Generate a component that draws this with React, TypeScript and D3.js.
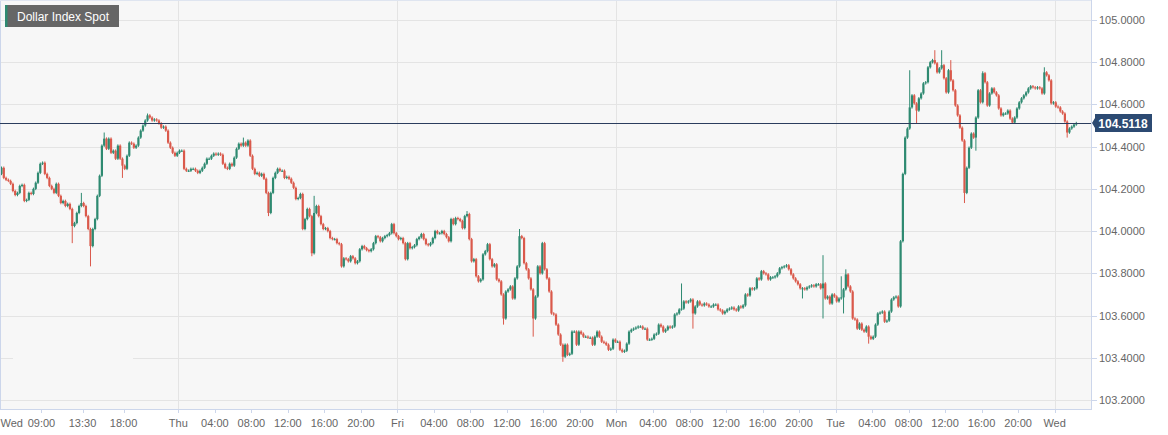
import React from "react";
import * as d3 from "d3";

const seriesName = "Dollar Index Spot";
const lastPrice = 104.5118;
const firstOpen = 104.271;

// 15-minute closes, Wed 04:30 onward (weekend removed)
const closes: number[] = [
  104.300,104.252,104.243,104.238,104.224,104.190,104.171,104.181,104.214,104.219,
  104.143,104.148,104.181,104.176,104.200,104.229,104.276,104.319,104.324,104.271,
  104.252,104.214,104.200,104.181,104.224,104.167,104.133,104.143,104.119,104.129,
  104.105,104.024,104.038,104.086,104.119,104.133,104.119,104.071,104.010,103.929,
  104.010,104.057,104.167,104.262,104.405,104.438,104.390,104.438,104.371,104.381,
  104.343,104.405,104.343,104.310,104.295,104.357,104.419,104.414,104.395,104.405,
  104.443,104.476,104.500,104.524,104.548,104.538,104.524,104.529,104.524,104.510,
  104.490,104.495,104.476,104.419,104.395,104.371,104.357,104.371,104.381,104.381,
  104.295,104.286,104.286,104.295,104.295,104.286,104.276,104.286,104.300,104.319,
  104.343,104.343,104.357,104.367,104.362,104.367,104.362,104.319,104.300,104.295,
  104.319,104.310,104.348,104.390,104.414,104.405,104.419,104.405,104.429,104.357,
  104.295,104.271,104.276,104.262,104.271,104.248,104.181,104.086,104.181,104.252,
  104.276,104.295,104.286,104.286,104.252,104.257,104.248,104.229,104.205,104.152,
  104.157,104.176,104.010,104.057,104.105,104.071,103.895,104.086,104.119,104.071,
  104.033,104.010,104.014,104.000,103.967,103.962,103.962,103.943,103.938,103.833,
  103.871,103.867,103.857,103.881,103.871,103.848,103.857,103.914,103.929,103.919,
  103.910,103.905,103.914,103.943,103.976,103.971,103.952,103.967,103.976,103.981,
  103.990,104.033,103.990,103.976,103.962,103.967,103.943,103.867,103.943,103.919,
  103.924,103.933,103.962,103.971,103.986,103.962,103.938,103.933,103.943,103.967,
  104.000,103.990,103.990,104.000,103.986,103.971,103.952,104.057,104.033,104.062,
  104.057,104.048,104.014,104.071,104.081,103.962,103.857,103.867,103.786,103.762,
  103.771,103.890,103.905,103.938,103.867,103.833,103.843,103.771,103.762,103.700,
  103.586,103.714,103.724,103.738,103.681,103.776,103.833,103.976,103.967,103.848,
  103.819,103.776,103.724,103.586,103.690,103.833,103.800,103.943,103.819,103.776,
  103.714,103.610,103.605,103.557,103.510,103.462,103.405,103.462,103.414,103.419,
  103.524,103.524,103.462,103.524,103.514,103.500,103.500,103.495,103.495,103.462,
  103.500,103.524,103.500,103.476,103.471,103.462,103.438,103.443,103.486,103.476,
  103.476,103.438,103.429,103.433,103.467,103.524,103.533,103.538,103.543,103.548,
  103.548,103.538,103.538,103.486,103.486,103.490,103.510,103.514,103.557,103.548,
  103.524,103.533,103.548,103.543,103.548,103.605,103.610,103.629,103.633,103.667,
  103.662,103.667,103.676,103.610,103.643,103.667,103.652,103.648,103.657,103.652,
  103.643,103.643,103.652,103.652,103.629,103.624,103.610,103.619,103.629,103.633,
  103.638,103.629,103.624,103.643,103.638,103.648,103.700,103.695,103.729,103.724,
  103.729,103.776,103.771,103.810,103.800,103.795,103.771,103.781,103.781,103.786,
  103.800,103.824,103.829,103.833,103.838,103.819,103.795,103.776,103.762,103.748,
  103.729,103.729,103.724,103.733,103.738,103.743,103.738,103.748,103.748,103.729,
  103.752,103.681,103.690,103.657,103.700,103.690,103.667,103.681,103.686,103.724,
  103.795,103.738,103.714,103.586,103.581,103.538,103.562,103.533,103.524,103.548,
  103.500,103.490,103.500,103.557,103.610,103.614,103.619,103.571,103.576,103.619,
  103.676,103.686,103.690,103.643,103.952,104.271,104.443,104.486,104.586,104.643,
  104.605,104.571,104.629,104.652,104.700,104.705,104.776,104.800,104.810,104.795,
  104.752,104.771,104.786,104.724,104.657,104.762,104.714,104.667,104.595,104.548,
  104.490,104.429,104.181,104.300,104.395,104.462,104.443,104.538,104.667,104.610,
  104.748,104.705,104.595,104.652,104.676,104.657,104.643,104.581,104.548,104.557,
  104.557,104.571,104.533,104.514,104.538,104.581,104.610,104.629,104.643,104.657,
  104.676,104.686,104.681,104.676,104.681,104.676,104.652,104.752,104.738,104.714,
  104.605,104.610,104.590,104.586,104.567,104.557,104.519,104.467,104.486,104.495,
  104.505,104.5118,
];

// notable wick extremes: [candle index, price]
const wickHighs: [number, number][] = [
  [35, 104.181], [45, 104.467], [64, 104.557], [106, 104.443], [137, 104.167],
  [204, 104.095], [227, 104.01], [298, 103.752], [360, 103.886], [368, 103.786],
  [370, 103.819], [398, 104.762], [409, 104.857], [412, 104.857], [416, 104.81],
  [430, 104.757], [457, 104.776],
];
const wickLows: [number, number][] = [
  [31, 103.943], [39, 103.833], [53, 104.252], [117, 104.071], [136, 103.881],
  [220, 103.557], [233, 103.5], [246, 103.381], [303, 103.538], [351, 103.681],
  [360, 103.586], [369, 103.61], [380, 103.467], [401, 104.51], [422, 104.133],
  [427, 104.381], [467, 104.443],
];

const yTicks = [103.2, 103.4, 103.6, 103.8, 104.0, 104.2, 104.4, 104.6, 104.8, 105.0];

// trading hours counted from Wed 00:00 (weekend removed)
const timeLabels = [
  "Wed", "09:00", "13:30", "18:00",
  "Thu", "04:00", "08:00", "12:00", "16:00", "20:00",
  "Fri", "04:00", "08:00", "12:00", "16:00", "20:00",
  "Mon", "04:00", "08:00", "12:00", "16:00", "20:00",
  "Tue", "04:00", "08:00", "12:00", "16:00", "20:00",
  "Wed",
];
const timeHours = [
  5.75, 9, 13.5, 18,
  24, 28, 32, 36, 40, 44,
  48, 52, 56, 60, 64, 68,
  72, 76, 80, 84, 88, 92,
  96, 100, 104, 108, 112, 116,
  120,
];
const dayBoundaryHours = [24, 48, 72, 96, 120];
const startHour = 4.5; // first candle opens Wed 04:30

const W = 1168;
const H = 435;
const plotRight = 1091;
const plotBottom = 409;
const GREEN = "#2e8a71";
const RED = "#da594b";
const FONT = "'Liberation Sans', Arial, Helvetica, sans-serif";

export default function App() {
  const n = closes.length;
  const x = d3.scaleLinear().domain([0, n - 1]).range([1.5, 1076.3]);
  const y = d3.scaleLinear().domain([103.2, 105.0]).range([400, 20]);
  const hourToX = (h: number) => x((h - startHour) * 4 - 0.5);

  const hiMap = new Map(wickHighs);
  const loMap = new Map(wickLows);
  const candles = closes.map((c, i) => {
    const o = i === 0 ? firstOpen : closes[i - 1];
    const top = Math.max(o, c);
    const bot = Math.min(o, c);
    const hi = Math.max(hiMap.get(i) ?? top + 0.006, top);
    const lo = Math.min(loMap.get(i) ?? bot - 0.006, bot);
    return { i, o, c, hi, lo, up: c >= o };
  });

  const yl = y(lastPrice);

  return (
    <div style={{ width: W, height: H }}>
      <style>{`body{margin:0}`}</style>
      <svg width={W} height={H} style={{ display: "block", fontFamily: FONT }}>
        <rect x={0} y={0} width={W} height={H} fill="#ffffff" />
        <rect x={0} y={0} width={plotRight} height={plotBottom} fill="#f7f7f7" />
        {/* horizontal grid */}
        {yTicks.map((t) => (
          <line key={"g" + t} x1={0} x2={plotRight} y1={Math.round(y(t)) + 0.5} y2={Math.round(y(t)) + 0.5} stroke="#e4e4e4" strokeWidth={1} />
        ))}
        <rect x={13} y={Math.round(y(103.4)) - 1} width={120} height={3} fill="#f7f7f7" />
        {/* vertical day grid */}
        {dayBoundaryHours.map((h) => (
          <line key={"v" + h} x1={Math.round(hourToX(h)) + 0.5} x2={Math.round(hourToX(h)) + 0.5} y1={0} y2={plotBottom} stroke="#e4e4e4" strokeWidth={1} />
        ))}
        {/* candles */}
        {candles.map((d) => {
          const cx = x(d.i);
          const col = d.up ? GREEN : RED;
          const yt = y(Math.max(d.o, d.c));
          const yb = y(Math.min(d.o, d.c));
          return (
            <g key={d.i}>
              <line x1={cx} x2={cx} y1={y(d.hi)} y2={y(d.lo)} stroke={col} strokeWidth={1} />
              <rect x={cx - 1.1} y={yt} width={2.2} height={Math.max(1, yb - yt)} fill={col} />
            </g>
          );
        })}
        {/* plot frame and axes */}
        <line x1={0.5} x2={0.5} y1={0} y2={plotBottom} stroke="#ccd6eb" />
        <line x1={0} x2={plotRight} y1={0.5} y2={0.5} stroke="#dfe5f0" />
        <line x1={plotRight + 0.5} x2={plotRight + 0.5} y1={0} y2={plotBottom} stroke="#ccd6eb" />
        <line x1={0} x2={plotRight + 1} y1={plotBottom + 0.5} y2={plotBottom + 0.5} stroke="#ccd6eb" />
        {/* y axis */}
        {yTicks.map((t) => (
          <g key={"t" + t}>
            <line x1={plotRight} x2={plotRight + 6} y1={Math.round(y(t)) + 0.5} y2={Math.round(y(t)) + 0.5} stroke="#ccd6eb" />
            <text x={plotRight + 8} y={y(t) + 4} fontSize={11} fill="#666666">
              {d3.format(".4f")(t)}
            </text>
          </g>
        ))}
        {/* x axis */}
        {timeLabels.map((lab, k) => {
          const px = hourToX(timeHours[k]);
          return (
            <g key={"x" + k}>
              {k > 0 && (
                <line x1={Math.round(px) + 0.5} x2={Math.round(px) + 0.5} y1={plotBottom} y2={plotBottom + 4} stroke="#ccd6eb" />
              )}
              <text x={px} y={426.5} fontSize={11} fill="#666666" textAnchor="middle">
                {lab}
              </text>
            </g>
          );
        })}
        {/* last price line and label */}
        <line x1={0} x2={plotRight} y1={Math.round(yl) + 0.5} y2={Math.round(yl) + 0.5} stroke="#2b3d5e" strokeWidth={1} />
        <path
          d={`M${plotRight + 1},${yl} L${plotRight + 4},${yl - 5} L${plotRight + 4},${yl - 9} L${1152},${yl - 9} L${1152},${yl + 9} L${plotRight + 4},${yl + 9} L${plotRight + 4},${yl + 5} Z`}
          fill="#2c4a72"
        />
        <text x={1123} y={yl + 4.5} fontSize={12} fontWeight="bold" fill="#ffffff" textAnchor="middle">
          {d3.format(".4f")(lastPrice)}
        </text>
        {/* title box */}
        <rect x={5} y={5} width={114} height={22} fill="#666666" />
        <rect x={5} y={5} width={2.5} height={22} fill={GREEN} />
        <text x={17} y={20.5} fontSize={12} fill="#ffffff">
          {seriesName}
        </text>
      </svg>
    </div>
  );
}
